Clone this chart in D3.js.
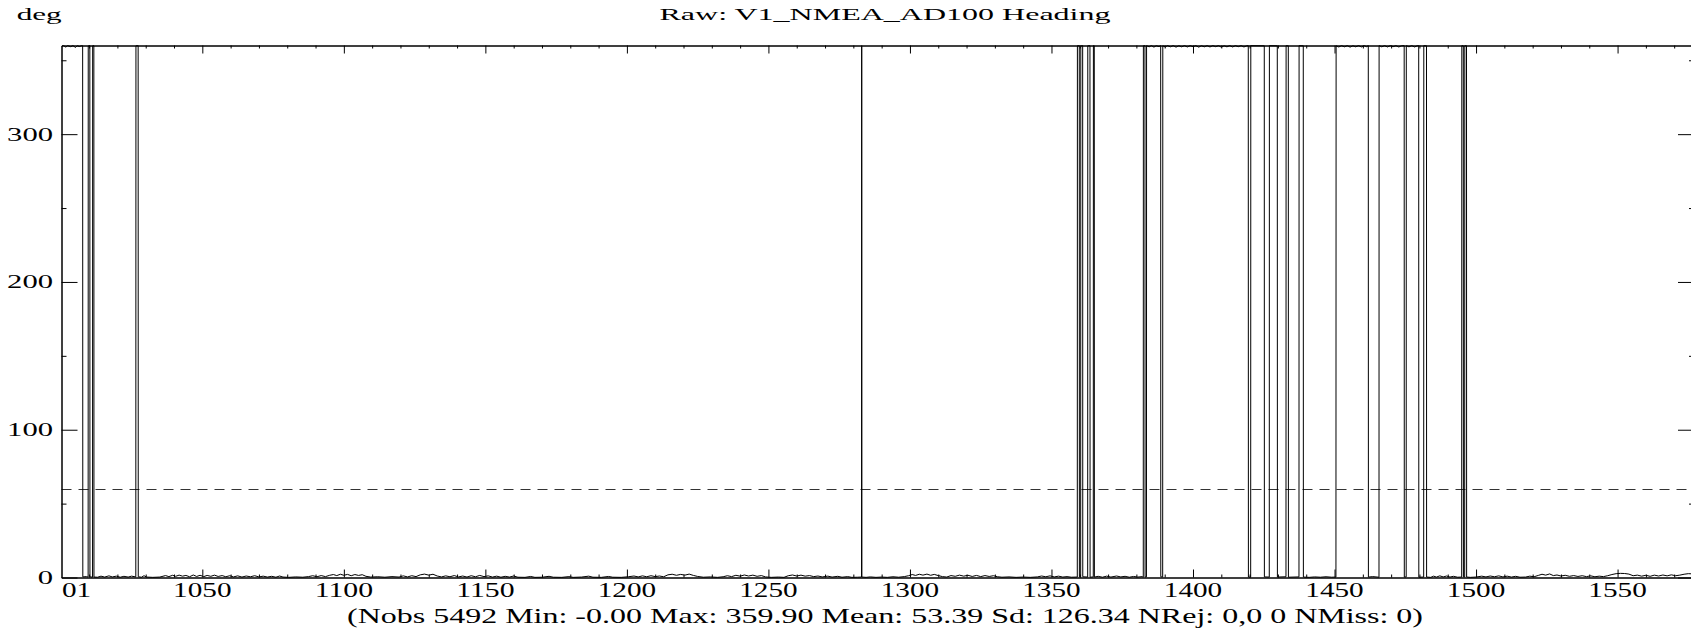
<!DOCTYPE html>
<html><head><meta charset="utf-8">
<script src="https://cdn.jsdelivr.net/npm/d3@7"></script>
<style>html,body{margin:0;padding:0;background:#fff;} svg{display:block;}</style>
</head><body><svg id="chart" width="1691" height="632"></svg>
<script>
// ---------- data (time, heading in deg) ----------
const headingSeries = [
 [1000.25,359.6],[1001.0,359.9],[1001.8,358.9],[1002.4,359.9],[1003.5,359.2],[1004.3,359.9],[1005.2,358.7],[1005.8,359.8],[1006.6,359.3],[1007.4,359.9],
 [1007.72,359.8],[1007.78,0.4],[1009.0,0.6],[1009.66,0.3],
 [1009.70,359.7],[1010.26,359.9],[1010.30,0.5],[1011.22,0.2],[1011.26,359.8],[1011.68,359.9],[1011.72,0.3],
 [1013.0,0.2],[1014.2,0.9],[1015.5,0.3],[1017.0,1.1],[1018.2,0.4],[1019.6,0.9],[1021.0,0.2],[1022.3,0.8],[1023.8,0.3],[1025.0,0.9],[1026.5,0.4],
 [1026.55,359.8],[1027.33,359.9],[1027.37,0.5],
 [1028.5,0.2],[1029.4,1.2],[1030.3,0.3],[1032.5,0.1],[1035.0,0.3],[1037.0,1.3],[1038.2,0.6],[1039.5,1.5],[1040.6,0.8],[1041.8,1.6],[1043.0,0.9],[1044.2,1.4],[1045.5,0.5],[1046.8,1.7],[1048.0,0.7],[1049.2,1.5],[1050.5,0.6],[1051.7,1.4],[1053.0,0.8],[1054.3,1.6],[1055.6,0.7],[1057.0,1.3],[1058.3,0.5],[1059.7,1.2],[1061.0,0.4],[1062.5,1.1],[1064.0,0.3],[1065.5,1.0],[1067.0,0.5],[1068.5,1.2],[1070.0,0.4],[1071.5,0.9],[1073.0,0.3],[1074.5,0.8],[1076.0,0.2],[1077.3,1.0],[1078.5,0.3],[1080.5,0.1],[1083.0,0.4],[1085.5,0.2],[1087.5,0.6],[1089.0,1.2],[1090.5,0.5],[1092.0,1.3],[1093.5,0.6],[1095.0,1.5],[1096.3,2.0],[1097.5,1.3],[1098.8,2.2],[1100.0,1.5],[1101.3,2.1],[1102.6,1.2],[1103.9,2.0],[1105.2,1.4],[1106.5,1.9],[1107.8,0.8],[1109.5,0.3],[1112.0,0.5],[1114.5,0.2],[1117.0,0.6],[1119.5,0.3],[1121.0,1.1],[1122.5,0.4],[1124.0,1.2],[1125.5,0.6],[1127.0,1.8],[1128.5,2.3],[1130.0,1.6],[1131.5,2.2],[1133.0,1.0],[1134.5,0.4],[1136.0,1.1],[1137.5,0.5],[1139.0,1.3],[1140.5,0.4],[1142.0,1.0],[1143.5,0.3],[1145.0,1.2],[1146.5,0.5],[1148.0,1.4],[1149.5,0.6],[1151.0,1.1],[1152.5,0.3],[1154.0,0.9],[1155.5,0.2],[1157.0,0.8],[1158.5,0.3],[1160.0,1.0],[1161.5,0.2],[1164.0,0.1],[1166.0,0.7],[1167.5,0.1],[1170.0,0.2],[1172.5,0.8],[1174.0,0.2],[1177.0,0.1],[1179.5,0.6],[1181.0,0.1],[1184.0,0.3],[1186.5,0.9],[1188.0,0.2],[1191.0,0.1],[1193.5,0.7],[1195.0,0.2],[1198.0,0.1],[1200.5,0.5],[1202.5,1.0],[1204.0,0.4],[1205.5,1.1],[1207.0,0.5],[1208.5,1.2],[1210.0,0.6],[1211.5,1.0],[1213.0,0.5],[1214.5,1.8],[1216.0,2.2],[1217.5,1.5],[1219.0,2.1],[1220.5,1.6],[1222.0,2.3],[1223.5,1.4],[1225.0,0.7],[1227.0,0.2],[1229.5,0.4],[1232.0,0.1],[1234.0,0.5],[1235.5,1.2],[1237.0,0.6],[1238.5,1.5],[1240.0,0.9],[1241.5,1.7],[1243.0,1.0],[1244.5,1.6],[1246.0,0.8],[1247.5,1.3],[1249.0,0.4],[1251.0,0.1],[1253.5,0.3],[1255.5,0.1],[1257.0,1.2],[1258.5,1.7],[1260.0,1.0],[1261.5,1.6],[1263.0,0.9],[1264.5,1.3],[1266.0,0.6],[1267.5,1.0],[1269.0,0.4],[1271.0,0.9],[1272.5,0.3],[1274.5,0.8],[1276.0,0.2],[1278.0,0.6],[1279.5,0.1],[1281.5,0.2],
 [1282.9,0.3],[1282.96,359.9],[1283.02,0.3],
 [1284.5,0.1],[1286.0,0.4],[1288.0,0.1],[1290.0,0.3],[1292.0,0.1],[1294.0,0.5],[1296.0,0.2],[1298.0,0.6],[1299.5,1.2],[1300.8,2.0],[1302.0,1.4],[1303.3,2.2],[1304.6,1.6],[1306.0,2.3],[1307.3,1.5],[1308.6,2.1],[1310.0,1.3],[1311.5,0.6],[1313.0,0.3],[1314.5,1.3],[1316.0,0.8],[1317.5,1.6],[1319.0,0.9],[1320.5,1.5],[1322.0,0.7],[1323.5,1.4],[1325.0,0.6],[1326.5,1.3],[1328.0,0.7],[1329.5,1.2],[1331.0,0.5],[1332.5,0.2],[1335.0,0.4],[1337.5,0.1],[1340.0,0.3],[1342.5,0.1],[1345.0,0.4],[1346.5,1.0],[1348.0,0.5],[1349.5,1.1],[1351.0,0.4],[1352.5,0.9],[1354.0,0.3],[1355.5,0.6],[1357.0,0.2],[1359.0,0.3],
 [1359.12,0.3],[1359.16,359.8],[1359.82,359.9],[1359.86,0.4],[1360.32,0.2],[1360.36,359.7],[1361.02,359.9],[1361.06,0.5],[1362.79,0.3],[1362.83,359.8],[1363.60,359.9],[1363.64,0.2],[1364.77,0.4],[1364.81,359.9],[1365.12,359.8],[1365.16,0.3],
 [1366.5,0.8],[1368.0,0.2],[1369.5,0.9],[1371.0,0.3],[1373.0,1.0],[1374.5,0.4],[1376.0,0.8],[1377.5,0.2],[1379.0,0.7],[1380.5,0.3],[1382.0,0.6],[1382.43,0.2],
 [1382.47,359.8],[1383.03,359.9],[1383.07,0.3],[1383.56,0.4],[1383.60,359.9],
 [1384.5,359.1],[1385.3,359.9],[1386.2,358.9],[1387.0,359.8],[1388.0,359.3],[1388.58,359.9],[1388.62,0.5],[1389.29,0.3],
 [1389.33,359.8],[1390.2,359.0],[1391.0,359.9],[1392.0,359.1],[1393.0,359.9],[1394.0,358.9],[1395.0,359.8],[1396.0,359.1],[1397.0,359.9],[1398.0,359.0],[1399.0,359.9],[1400.0,359.2],[1401.0,359.9],[1402.0,358.9],[1403.0,359.8],[1404.0,359.1],[1405.0,359.9],[1406.0,359.0],[1407.0,359.9],[1408.0,359.2],[1409.0,359.9],[1410.0,358.9],[1411.0,359.8],[1412.0,359.1],[1413.0,359.9],[1414.0,359.0],[1415.0,359.9],[1416.0,359.2],[1417.0,359.9],[1418.0,359.0],[1419.0,359.8],[1419.53,359.9],
 [1419.57,0.3],[1420.38,0.2],[1420.42,359.9],[1425.18,359.8],[1425.22,0.4],[1426.95,0.3],[1426.99,359.9],[1429.78,359.8],[1429.82,0.3],[1432.85,0.5],[1432.89,359.9],[1433.67,359.8],[1433.71,0.2],[1437.44,0.4],[1437.48,359.9],[1438.96,359.8],[1439.00,0.3],
 [1441.0,0.1],[1443.0,0.4],[1445.0,0.2],[1447.0,0.5],[1449.0,0.2],[1450.5,0.3],
 [1450.56,359.8],[1451.5,359.0],[1452.5,359.9],[1453.5,359.1],[1454.5,359.9],[1455.5,358.9],[1456.5,359.8],[1457.5,359.1],[1458.5,359.9],[1459.5,359.0],[1460.5,359.9],[1461.3,359.2],[1461.93,359.9],
 [1461.97,0.3],[1463.5,0.6],[1465.71,0.2],
 [1465.75,359.9],[1466.7,359.1],[1467.7,359.9],[1468.7,359.0],[1469.7,359.9],[1470.7,359.2],[1471.7,359.9],[1472.7,359.0],[1473.7,359.8],[1474.61,359.9],
 [1474.65,0.3],[1475.32,0.4],
 [1475.36,359.9],[1476.3,359.1],[1477.3,359.9],[1478.3,359.0],[1479.2,359.8],[1479.74,359.9],
 [1479.78,0.2],[1481.50,0.3],[1481.54,359.9],[1482.49,359.8],[1482.53,0.3],
 [1484.0,0.1],[1485.0,0.9],[1486.0,0.3],[1487.2,1.1],[1488.4,0.4],[1489.6,1.0],[1490.8,0.3],[1492.0,0.8],[1493.5,0.2],[1494.93,0.3],
 [1494.97,359.9],[1495.50,359.8],[1495.54,0.4],[1495.99,0.3],[1496.03,359.9],[1496.63,359.8],[1496.67,0.3],
 [1498.0,0.1],[1500.0,0.3],[1502.0,0.9],[1503.5,0.4],[1505.0,1.0],[1506.5,0.5],[1508.0,1.1],[1509.5,0.4],[1511.0,0.9],[1512.5,0.3],[1514.0,0.8],[1515.5,0.2],[1517.5,0.3],[1519.0,0.9],[1520.5,0.5],[1522.0,1.4],[1523.3,2.2],[1524.6,1.6],[1526.0,2.4],[1527.3,1.3],[1528.6,1.7],[1530.0,1.0],[1531.5,1.5],[1533.0,0.8],[1534.5,1.3],[1536.0,0.7],[1537.5,1.2],[1539.0,0.6],[1540.5,1.1],[1542.0,0.5],[1543.5,0.9],[1545.0,0.6],[1546.5,1.2],[1548.0,2.0],[1549.5,2.6],[1551.0,2.8],[1552.5,2.7],[1554.0,2.3],[1555.5,1.2],[1557.0,1.6],[1558.5,0.9],[1560.0,1.5],[1561.5,0.8],[1563.0,1.6],[1564.5,1.0],[1566.0,1.7],[1567.5,1.1],[1569.0,1.8],[1570.5,1.2],[1572.0,1.6],[1573.5,2.2],[1575.0,2.6],[1577.0,2.4]
];
const thresholdValue = 60;

const xDomain = [1000.25, 1577];
const xMajorTicks = [1050,1100,1150,1200,1250,1300,1350,1400,1450,1500,1550];
const xMinorTicks = [1010,1020,1030,1040,1060,1070,1080,1090,1110,1120,1130,1140,1160,1170,1180,1190,1210,1220,1230,1240,1260,1270,1280,1290,1310,1320,1330,1340,1360,1370,1380,1390,1410,1420,1430,1440,1460,1470,1480,1490,1510,1520,1530,1540,1560,1570];
const xLabelValues = [1001,1050,1100,1150,1200,1250,1300,1350,1400,1450,1500,1550];
const xLabelTexts = ["01","1050","1100","1150","1200","1250","1300","1350","1400","1450","1500","1550"];

const yDomain = [0, 360];
const yMajorTicks = [0,100,200,300];
const yMinorTicks = [50,150,250,350];
const yLabelTexts = ["0","100","200","300"];

const titleText = "Raw: V1_NMEA_AD100 Heading";
const unitText = "deg";
const statsText = "(Nobs 5492 Min: -0.00 Max: 359.90 Mean: 53.39 Sd: 126.34 NRej: 0,0 0 NMiss: 0)";

// ---------- layout ----------
const L = 61.5, R = 1694, T = 45.5, B = 577.5;
const FONT = "'Liberation Serif','Times New Roman',serif";
const svg = d3.select("#chart");
const x = d3.scaleLinear().domain(xDomain).range([L, R]);
const y = d3.scaleLinear().domain(yDomain).range([B, T]);

svg.append("defs").append("clipPath").attr("id","plotclip")
  .append("rect").attr("x",L).attr("y",T-2).attr("width",R-L).attr("height",B-T+4);

// threshold dashed line
svg.append("line")
  .attr("x1",L).attr("x2",R).attr("y1",Math.round(y(thresholdValue))+0.5).attr("y2",Math.round(y(thresholdValue))+0.5)
  .attr("stroke","#333").attr("stroke-width",1).attr("stroke-dasharray","10,7");

// data line
const line = d3.line().x(d => x(d[0])).y(d => y(d[1]));
svg.append("path").datum(headingSeries)
  .attr("clip-path","url(#plotclip)")
  .attr("d", line).attr("fill","none").attr("stroke","#000").attr("stroke-width",1);

// axes
function styleAxis(g){
  g.selectAll("text").remove();
  g.selectAll("path,line").attr("stroke","#000").attr("stroke-width",1);
}
svg.append("g").attr("transform",`translate(0,${B})`)
  .call(d3.axisBottom(x).tickValues(xMajorTicks).tickSizeInner(-8).tickSizeOuter(0)).call(styleAxis);
svg.append("g").attr("transform",`translate(0,${B})`)
  .call(d3.axisBottom(x).tickValues(xMinorTicks).tickSizeInner(-3).tickSizeOuter(0)).call(styleAxis);
svg.append("g").attr("transform",`translate(0,${T})`)
  .call(d3.axisTop(x).tickValues(xMajorTicks).tickSizeInner(-8).tickSizeOuter(0)).call(styleAxis);
svg.append("g").attr("transform",`translate(0,${T})`)
  .call(d3.axisTop(x).tickValues(xMinorTicks).tickSizeInner(-3).tickSizeOuter(0)).call(styleAxis);
svg.append("g").attr("transform",`translate(${L},0)`)
  .call(d3.axisLeft(y).tickValues(yMajorTicks).tickSizeInner(-16).tickSizeOuter(0)).call(styleAxis);
svg.append("g").attr("transform",`translate(${L},0)`)
  .call(d3.axisLeft(y).tickValues(yMinorTicks).tickSizeInner(-5).tickSizeOuter(0)).call(styleAxis);
svg.append("g").attr("transform",`translate(${R},0)`)
  .call(d3.axisRight(y).tickValues(yMajorTicks).tickSizeInner(-16).tickSizeOuter(0)).call(styleAxis);
svg.append("g").attr("transform",`translate(${R},0)`)
  .call(d3.axisRight(y).tickValues(yMinorTicks).tickSizeInner(-5).tickSizeOuter(0)).call(styleAxis);

// x tick labels
const xDigitW = 14.6;
svg.append("g").selectAll("text").data(xLabelValues).join("text")
  .each(function(v,i){
    const txt = xLabelTexts[i];
    const w = txt.length * xDigitW;
    let cx = x(v), anchor = "middle", px = cx;
    if (cx - w/2 < L) { anchor = "start"; px = L + 0.5; }
    d3.select(this).attr("x",px).attr("y",597).attr("text-anchor",anchor)
      .attr("textLength",w).attr("lengthAdjust","spacingAndGlyphs").text(txt);
  })
  .attr("font-family",FONT).attr("font-size",22).attr("fill","#000");

// y tick labels
const yDigitW = 15.3;
svg.append("g").selectAll("text").data(yMajorTicks).join("text")
  .attr("x",53).attr("y",v => y(v)+6.5).attr("text-anchor","end")
  .attr("textLength",(v,i) => yLabelTexts[i].length*yDigitW).attr("lengthAdjust","spacingAndGlyphs")
  .attr("font-family",FONT).attr("font-size",19).attr("fill","#000")
  .text((v,i) => yLabelTexts[i]);

// title, unit, statistics
svg.append("text").attr("x",885).attr("y",20).attr("text-anchor","middle")
  .attr("textLength",451).attr("lengthAdjust","spacingAndGlyphs")
  .attr("font-family",FONT).attr("font-size",17.5).attr("fill","#000").text(titleText);
svg.append("text").attr("x",16.7).attr("y",20)
  .attr("textLength",45).attr("lengthAdjust","spacingAndGlyphs")
  .attr("font-family",FONT).attr("font-size",17.5).attr("fill","#000").text(unitText);
svg.append("text").attr("x",885).attr("y",623).attr("text-anchor","middle")
  .attr("textLength",1076).attr("lengthAdjust","spacingAndGlyphs")
  .attr("font-family",FONT).attr("font-size",22).attr("fill","#000").text(statsText);
</script></body></html>
